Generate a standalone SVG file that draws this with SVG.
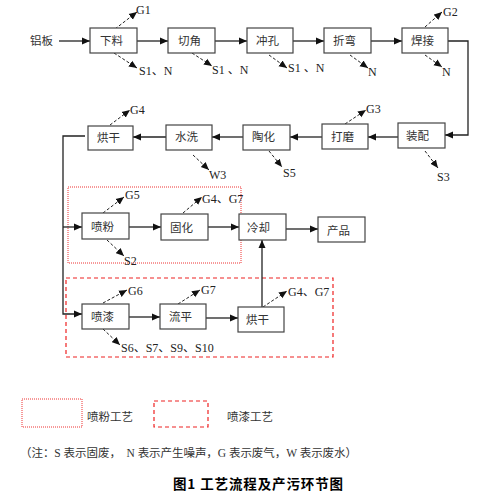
<svg xmlns="http://www.w3.org/2000/svg" width="491" height="495" viewBox="0 0 491 495">
<defs>
<marker id="ah" markerUnits="userSpaceOnUse" markerWidth="9" markerHeight="8" refX="8" refY="4" orient="auto">
<path d="M0,0.5 L8,4 L0,7.5 Z" fill="#111"/>
</marker>
<style>
.box{fill:#fff;stroke:#444;stroke-width:1.2}
.t{font-family:"Liberation Serif","Noto Sans CJK SC",serif;font-size:11.5px;fill:#333}
.e{font-family:"Liberation Serif","Noto Sans CJK SC",serif;font-size:12px;fill:#222}
.ln{fill:none;stroke:#222;stroke-width:1.3}
.da{fill:none;stroke:#222;stroke-width:1;stroke-dasharray:3,2}
</style>
</defs>
<rect width="491" height="495" fill="#fff"/>

<g id="region-powder">
<rect x="68" y="187" width="173" height="76" fill="none" stroke="#e33" stroke-width="1" stroke-dasharray="1,1"/>
</g>
<g id="region-paint">
<rect x="66" y="278" width="267" height="79" fill="none" stroke="#e22" stroke-width="1.2" stroke-dasharray="4,3"/>
</g>

<g id="connectors">
<path class="ln" d="M59,41 H90" marker-end="url(#ah)"/>
<path class="ln" d="M137,41 H168" marker-end="url(#ah)"/>
<path class="ln" d="M215,41 H247" marker-end="url(#ah)"/>
<path class="ln" d="M293,41 H324" marker-end="url(#ah)"/>
<path class="ln" d="M371,41 H402" marker-end="url(#ah)"/>
<path class="ln" d="M448,41 H468 V135 H445" marker-end="url(#ah)"/>
<path class="ln" d="M398,137 H368" marker-end="url(#ah)"/>
<path class="ln" d="M322,137 H290" marker-end="url(#ah)"/>
<path class="ln" d="M243,137 H212" marker-end="url(#ah)"/>
<path class="ln" d="M166,137 H133" marker-end="url(#ah)"/>
<path class="ln" d="M85,136 H63 V314 H82" marker-end="url(#ah)"/>
<path class="ln" d="M63,227 H82" marker-end="url(#ah)"/>
<path class="ln" d="M129,227 H161" marker-end="url(#ah)"/>
<path class="ln" d="M208,227 H239" marker-end="url(#ah)"/>
<path class="ln" d="M286,229 H318" marker-end="url(#ah)"/>
<path class="ln" d="M129,317 H160" marker-end="url(#ah)"/>
<path class="ln" d="M206,318 H238" marker-end="url(#ah)"/>
<path class="ln" d="M262,307 V240" marker-end="url(#ah)"/>

<path class="da" d="M115,29 L137,12" marker-end="url(#ah)"/>
<path class="da" d="M114,53 L137,68" marker-end="url(#ah)"/>
<path class="da" d="M192,53 L212,66" marker-end="url(#ah)"/>
<path class="da" d="M269,55 L287,68" marker-end="url(#ah)"/>
<path class="da" d="M350,55 L368,68" marker-end="url(#ah)"/>
<path class="da" d="M425,27 L442,12" marker-end="url(#ah)"/>
<path class="da" d="M425,55 L442,67" marker-end="url(#ah)"/>
<path class="da" d="M110,125 L130,110" marker-end="url(#ah)"/>
<path class="da" d="M345,124 L366,110" marker-end="url(#ah)"/>
<path class="da" d="M193,155 L209,170" marker-end="url(#ah)"/>
<path class="da" d="M269,151 L282,167" marker-end="url(#ah)"/>
<path class="da" d="M425,151 L438,168" marker-end="url(#ah)"/>
<path class="da" d="M103,213 L124,197" marker-end="url(#ah)"/>
<path class="da" d="M183,213 L202,197" marker-end="url(#ah)"/>
<path class="da" d="M107,240 L124,256" marker-end="url(#ah)"/>
<path class="da" d="M103,303 L127,290" marker-end="url(#ah)"/>
<path class="da" d="M178,304 L200,290" marker-end="url(#ah)"/>
<path class="da" d="M263,307 L287,291" marker-end="url(#ah)"/>
<path class="da" d="M103,329 L120,345" marker-end="url(#ah)"/>
</g>

<g id="labels">
<text class="t" x="30" y="45">铝板</text>
<text class="e" x="136" y="14">G1</text>
<text class="e" x="139" y="75">S1、N</text>
<text class="e" x="212" y="74">S1 、N</text>
<text class="e" x="288" y="72">S1 、N</text>
<text class="e" x="368" y="76">N</text>
<text class="e" x="443" y="16">G2</text>
<text class="e" x="442" y="76">N</text>
<text class="e" x="130" y="114">G4</text>
<text class="e" x="366" y="113">G3</text>
<text class="e" x="209" y="179">W3</text>
<text class="e" x="283" y="177">S5</text>
<text class="e" x="437" y="181">S3</text>
<text class="e" x="125" y="199">G5</text>
<text class="e" x="202" y="203">G4、G7</text>
<text class="e" x="124" y="265">S2</text>
<text class="e" x="128" y="295">G6</text>
<text class="e" x="201" y="294">G7</text>
<text class="e" x="288" y="296">G4、G7</text>
<text class="e" x="121" y="352">S6、S7、S9、S10</text>
</g>

<g id="n-xialiao"><rect class="box" x="90" y="28" width="47" height="25"/><text class="t" x="100" y="45">下料</text></g>
<g id="n-qiejiao"><rect class="box" x="168" y="28" width="47" height="25"/><text class="t" x="178" y="45">切角</text></g>
<g id="n-chongkong"><rect class="box" x="247" y="28" width="46" height="25"/><text class="t" x="256" y="45">冲孔</text></g>
<g id="n-zhewan"><rect class="box" x="324" y="28" width="47" height="25"/><text class="t" x="333" y="45">折弯</text></g>
<g id="n-hanjie"><rect class="box" x="402" y="28" width="46" height="25"/><text class="t" x="411" y="45">焊接</text></g>

<g id="n-zhuangpei"><rect class="box" x="398" y="123" width="47" height="25"/><text class="t" x="406" y="140">装配</text></g>
<g id="n-damo"><rect class="box" x="322" y="124" width="46" height="25"/><text class="t" x="331" y="141">打磨</text></g>
<g id="n-taohua"><rect class="box" x="243" y="125" width="47" height="25"/><text class="t" x="252" y="141">陶化</text></g>
<g id="n-shuixi"><rect class="box" x="166" y="125" width="46" height="25"/><text class="t" x="175" y="141">水洗</text></g>
<g id="n-honggan1"><rect class="box" x="88" y="126" width="45" height="24"/><text class="t" x="97" y="142">烘干</text></g>

<g id="n-penfen"><rect class="box" x="82" y="213" width="47" height="26"/><text class="t" x="91" y="231">喷粉</text></g>
<g id="n-guhua"><rect class="box" x="161" y="214" width="47" height="26"/><text class="t" x="170" y="232">固化</text></g>
<g id="n-lengque"><rect class="box" x="239" y="214" width="47" height="26"/><text class="t" x="247" y="232">冷却</text></g>
<g id="n-chanpin"><rect class="box" x="318" y="217" width="47" height="25"/><text class="t" x="327" y="235">产品</text></g>

<g id="n-penqi"><rect class="box" x="82" y="304" width="47" height="25"/><text class="t" x="91" y="321">喷漆</text></g>
<g id="n-liuping"><rect class="box" x="160" y="304" width="46" height="25"/><text class="t" x="169" y="321">流平</text></g>
<g id="n-honggan2"><rect class="box" x="238" y="307" width="46" height="25"/><text class="t" x="246" y="324">烘干</text></g>

<g id="legend">
<rect x="22" y="399" width="60" height="28" fill="none" stroke="#e33" stroke-width="1" stroke-dasharray="1,1"/>
<text class="t" x="87" y="421">喷粉工艺</text>
<rect x="154" y="401" width="54" height="26" fill="none" stroke="#e22" stroke-width="1.2" stroke-dasharray="4,3"/>
<text class="t" x="227" y="421">喷漆工艺</text>
<text class="t" x="20" y="457" xml:space="preserve" textLength="337" lengthAdjust="spacing">（注：S 表示固废，  N 表示产生噪声，G 表示废气，W 表示废水）</text>
<text x="258" y="489" text-anchor="middle" font-family="'Noto Sans CJK SC',sans-serif" font-weight="bold" font-size="13.5" fill="#000" textLength="170" lengthAdjust="spacing">图1  工艺流程及产污环节图</text>
</g>
</svg>
